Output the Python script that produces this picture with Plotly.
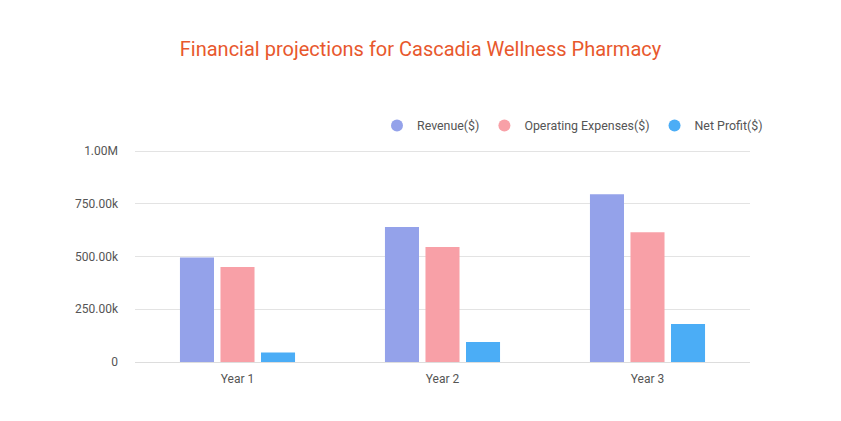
import plotly.graph_objects as go

categories = ["Year 1", "Year 2", "Year 3"]
revenue = [495000, 640000, 795000]
opex = [450000, 545000, 615000]
net_profit = [45000, 95000, 180000]
series_names = ["Revenue($)", "Operating Expenses($)", "Net Profit($)"]
colors = ["#94A2EA", "#F8A0A7", "#4BADF6"]
y_tickvals = [0, 250000, 500000, 750000, 1000000]
y_ticktext = ["0", "250.00k", "500.00k", "750.00k", "1.00M"]

fig = go.Figure()
for name, vals, c in zip(series_names, [revenue, opex, net_profit], colors):
    fig.add_trace(go.Bar(x=categories, y=vals, name=name, marker=dict(color=c, line=dict(width=0)),
                         showlegend=False))
    fig.add_trace(go.Scatter(x=[None], y=[None], mode="markers", name=name,
                             marker=dict(symbol="circle", size=12, color=c)))

fig.update_layout(
    width=841, height=421,
    paper_bgcolor="white", plot_bgcolor="white",
    margin=dict(l=135, r=91, t=149, b=59),
    barmode="group", bargap=0.407, bargroupgap=0.16,
    font=dict(family="Roboto", size=12, color="#555555"),
    title=dict(text="Financial projections for Cascadia Wellness Pharmacy",
               x=0.5, xanchor="center", y=1 - 49/421, yanchor="middle",
               font=dict(family="Roboto", size=20, color="#E8582D")),
    legend=dict(orientation="h", x=(377-135)/615, xanchor="left", y=1 + (149-126)/213, yanchor="middle",
                font=dict(size=12.4, color="#555555"), itemwidth=30, bgcolor="rgba(0,0,0,0)"),
    xaxis=dict(showgrid=False, showline=False, ticks="", tickfont=dict(size=12, color="#555555"),
               zeroline=False, ticklabelstandoff=8),
    yaxis=dict(range=[0, 1010000], tickvals=y_tickvals, ticktext=y_ticktext,
               showgrid=True, gridcolor="#E3E3E3", gridwidth=1, zeroline=True, zerolinecolor="#DDDDDD",
               zerolinewidth=1, showline=False, ticks="", ticklabelstandoff=16,
               tickfont=dict(size=12, color="#555555")),
)

fig.write_html("out.html")
